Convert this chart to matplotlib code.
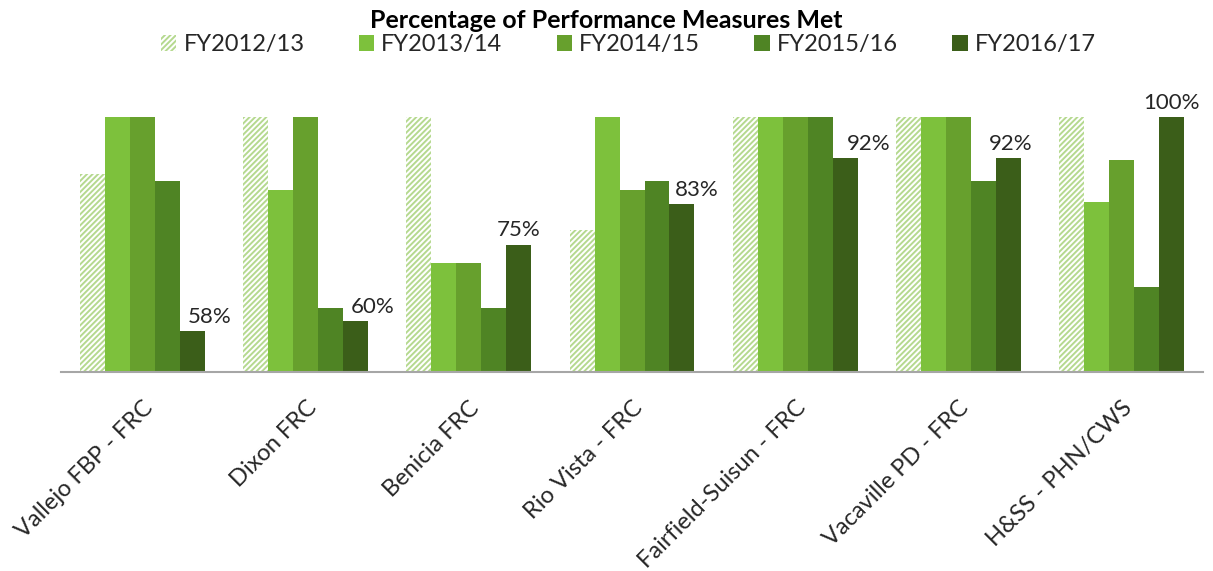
import numpy as np
import matplotlib
matplotlib.use("Agg")
import matplotlib.pyplot as plt
from matplotlib.patches import Patch

plt.rcParams['font.family'] = ['Lato', 'DejaVu Sans']
plt.rcParams['hatch.linewidth'] = 1.4

# data
sites = ["Vallejo FBP - FRC", "Dixon FRC", "Benicia FRC", "Rio Vista - FRC",
         "Fairfield-Suisun - FRC", "Vacaville PD - FRC", "H&SS - PHN/CWS"]
years = ["FY2012/13", "FY2013/14", "FY2014/15", "FY2015/16", "FY2016/17"]
fy1213 = [88.9, 100, 100, 77.8, 100, 100, 100]
fy1314 = [100, 85.7, 71.4, 100, 100, 100, 83.3]
fy1415 = [100, 100, 71.4, 85.7, 100, 100, 91.7]
fy1516 = [87.5, 62.5, 62.5, 87.5, 100, 87.5, 66.7]
fy1617 = [58, 60, 75, 83, 92, 92, 100]
labels_1617 = ["58%", "60%", "75%", "83%", "92%", "92%", "100%"]

series = [fy1213, fy1314, fy1415, fy1516, fy1617]
colors = ["#ffffff", "#7dc13c", "#67a02d", "#4f8424", "#3b5e19"]
hatch_color = "#b5d98f"
# horizontal nudge of the value labels (points)
label_dx = [12, 12, 0, 11, 17, 2, 0]

fig = plt.figure(figsize=(12.13, 5.71), dpi=100)
ax = fig.add_axes([0.0503, 0.3485, 0.9415, 0.4461])

x = np.arange(len(sites))
w = 0.153
for i, vals in enumerate(series):
    pos = x + (i - 2) * w
    if i == 0:
        ax.bar(pos, vals, w, color="white", edgecolor=hatch_color,
               hatch="//////", linewidth=0)
    else:
        ax.bar(pos, vals, w, color=colors[i], linewidth=0)

# value labels on the last year
for j, v in enumerate(fy1617):
    ax.annotate(labels_1617[j], (x[j] + 2 * w, v), xytext=(label_dx[j], 3),
                textcoords="offset points", ha="center", va="bottom",
                fontsize=16, color="#262626", annotation_clip=False)

ax.set_ylim(50, 100)
ax.set_xlim(-0.5, len(sites) - 0.5)
ax.set_yticks([])
for s in ["top", "right", "left"]:
    ax.spines[s].set_visible(False)
ax.spines["bottom"].set_color("#a6a6a6")
ax.spines["bottom"].set_linewidth(1.5)
ax.set_xticks(x)
ax.set_xticklabels(sites, rotation=45, ha="right", rotation_mode="anchor",
                   fontsize=17, color="#262626")
ax.tick_params(axis="x", length=0, pad=18)

fig.suptitle("Percentage of Performance Measures Met", x=0.5, y=0.985,
             fontsize=18, fontweight="bold", color="#000000")

handles = [Patch(facecolor="white", edgecolor=hatch_color, hatch="//////", linewidth=0)]
handles += [Patch(facecolor=c, linewidth=0) for c in colors[1:]]
fig.legend(handles, years, loc="center", bbox_to_anchor=(0.518, 0.922), ncol=5,
           frameon=False, fontsize=17, columnspacing=2.3, handlelength=0.65,
           handleheight=0.65, handletextpad=0.3, labelcolor="#262626")

fig.savefig("out.png", dpi=100)
